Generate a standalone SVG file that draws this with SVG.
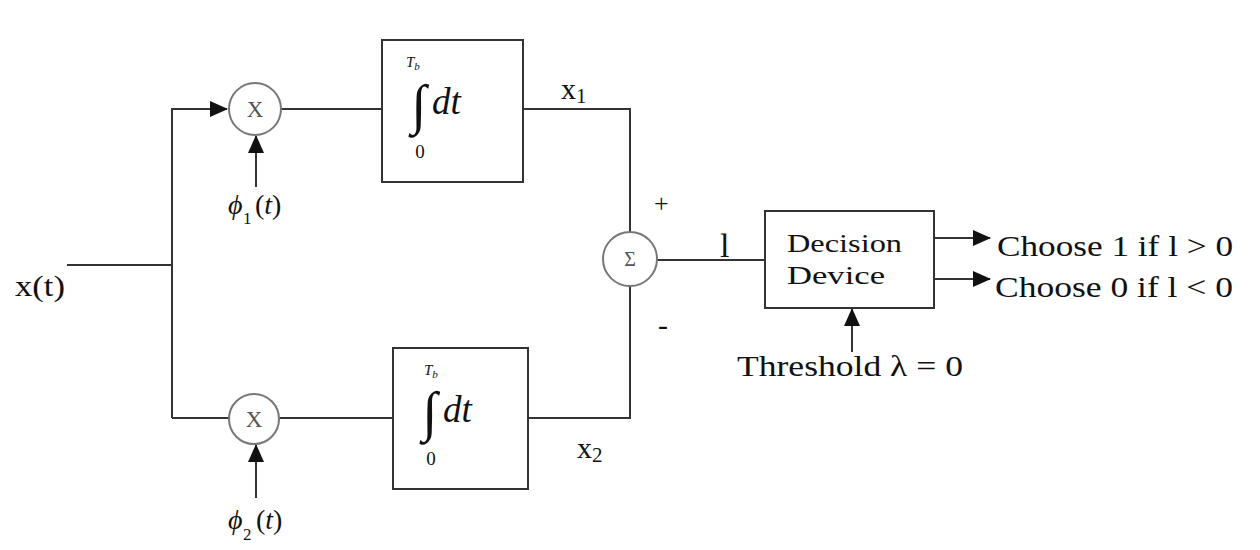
<svg xmlns="http://www.w3.org/2000/svg" width="1260" height="550" viewBox="0 0 1260 550">
<defs>
<marker id="ahl" markerWidth="18" markerHeight="16" refX="17" refY="8" orient="auto" markerUnits="userSpaceOnUse" viewBox="0 0 18 16">
<path d="M0,0 L18,8 L0,16 Z" fill="#111"/>
</marker>
</defs>
<style>
.ln{stroke:#333;stroke-width:2;fill:none}
.box{stroke:#333;stroke-width:2;fill:#fff}
.cir{stroke:#777;stroke-width:2;fill:#fff}
.t{font-family:"Liberation Serif",serif;fill:#111}
.it{font-family:"Liberation Serif",serif;font-style:italic;fill:#111}
.g{font-family:"Liberation Serif",serif;fill:#555}
</style>
<rect width="1260" height="550" fill="#fff"/>
<g id="connectors">
<path class="ln" d="M67,265 H172"/>
<path class="ln" d="M172,418 V109 H227" marker-end="url(#ahl)"/>
<path class="ln" d="M172,418 H229"/>
<path class="ln" d="M256,187 V136" marker-end="url(#ahl)"/>
<path class="ln" d="M256,498 V445" marker-end="url(#ahl)"/>
<path class="ln" d="M281,109 H382"/>
<path class="ln" d="M279,418 H393"/>
<path class="ln" d="M523,109 H630 V232"/>
<path class="ln" d="M528,418 H630 V286"/>
<path class="ln" d="M657,260 H765"/>
<path class="ln" d="M934,238 H990" marker-end="url(#ahl)"/>
<path class="ln" d="M934,279 H990" marker-end="url(#ahl)"/>
<path class="ln" d="M852,352 V309" marker-end="url(#ahl)"/>
</g>
<g id="input">
<text class="t" x="15" y="296" font-size="30" textLength="50" lengthAdjust="spacingAndGlyphs">x(t)</text>
</g>
<g id="mult1">
<circle class="cir" cx="255" cy="109" r="26"/>
<text class="g" x="255" y="117" font-size="23" text-anchor="middle">X</text>
<text class="it" x="228" y="214" font-size="28">ϕ</text>
<text class="t" x="243" y="224" font-size="17">1</text>
<text class="t" x="255" y="214" font-size="28">(<tspan font-style="italic">t</tspan>)</text>
</g>
<g id="mult2">
<circle class="cir" cx="254" cy="419" r="25"/>
<text class="g" x="254" y="427" font-size="23" text-anchor="middle">X</text>
<text class="it" x="228" y="529" font-size="28">ϕ</text>
<text class="t" x="243" y="540" font-size="17">2</text>
<text class="t" x="256" y="529" font-size="28">(<tspan font-style="italic">t</tspan>)</text>
</g>
<g id="integrator1">
<rect class="box" x="382" y="40" width="141" height="142"/>
<text class="it" x="406" y="67" font-size="15">T<tspan font-size="11" dy="3">b</tspan></text>
<text class="t" x="419" y="123" font-size="55" text-anchor="middle">∫</text>
<text class="t" x="420" y="158" font-size="19" text-anchor="middle">0</text>
<text class="it" x="432" y="114" font-size="37">dt</text>
</g>
<g id="integrator2">
<rect class="box" x="393" y="348" width="135" height="141"/>
<text class="it" x="424" y="375" font-size="15">T<tspan font-size="11" dy="3">b</tspan></text>
<text class="t" x="430" y="430" font-size="55" text-anchor="middle">∫</text>
<text class="t" x="431" y="465" font-size="19" text-anchor="middle">0</text>
<text class="it" x="443" y="422" font-size="37">dt</text>
</g>
<g id="labels">
<text class="t" x="561" y="99" font-size="30">x<tspan font-size="21" dy="4">1</tspan></text>
<text class="t" x="577" y="458" font-size="30">x<tspan font-size="21" dy="4">2</tspan></text>
<text class="t" x="654" y="212" font-size="26">+</text>
<text class="t" x="658" y="335" font-size="30">-</text>
<text class="t" x="720" y="257" font-size="34">l</text>
</g>
<g id="sum">
<circle class="cir" cx="630" cy="259" r="27"/>
<text class="g" x="630" y="266" font-size="20" text-anchor="middle">Σ</text>
</g>
<g id="decision">
<rect class="box" x="765" y="211" width="169" height="97"/>
<text class="t" x="787" y="252" font-size="25" textLength="115" lengthAdjust="spacingAndGlyphs">Decision</text>
<text class="t" x="787" y="284" font-size="25" textLength="98" lengthAdjust="spacingAndGlyphs">Device</text>
</g>
<g id="outputs">
<text class="t" x="997" y="256" font-size="30" textLength="236" lengthAdjust="spacingAndGlyphs">Choose 1 if l &gt; 0</text>
<text class="t" x="995" y="297" font-size="30" textLength="238" lengthAdjust="spacingAndGlyphs">Choose 0 if l &lt; 0</text>
</g>
<g id="threshold">
<text class="t" x="737" y="376" font-size="30" textLength="226" lengthAdjust="spacingAndGlyphs">Threshold λ = 0</text>
</g>
</svg>
